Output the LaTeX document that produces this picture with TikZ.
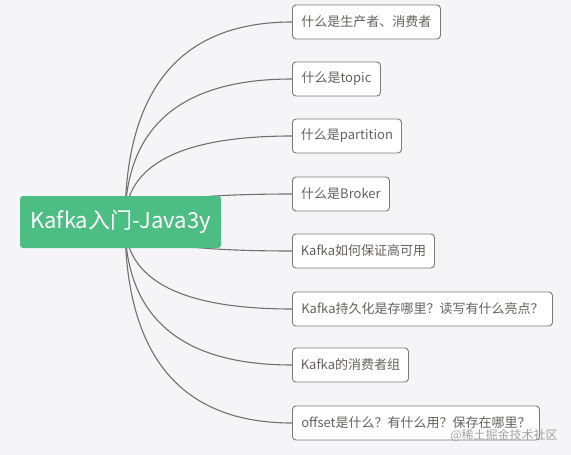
\documentclass[tikz,border=0pt]{standalone}
\usepackage{fontspec}
\setmainfont{Noto Sans CJK SC}
\usetikzlibrary{backgrounds,calc}
\definecolor{bgc}{HTML}{F5F5F7}
\definecolor{rootgreen}{HTML}{4CBD83}
\definecolor{linec}{HTML}{707070}
\definecolor{boxline}{HTML}{7A7A7A}
\definecolor{txtc}{HTML}{66615D}
\definecolor{wmark}{HTML}{A3A3A3}
\tikzset{
  rootbox/.style={fill=rootgreen, rounded corners=3pt, minimum width=201pt, minimum height=52pt,
    inner sep=0pt, text=white, font=\fontsize{22}{24}\selectfont},
  topicbox/.style={draw=boxline, fill=white, line width=0.9pt, rounded corners=3.5pt,
    minimum height=34pt, inner sep=0pt, text=txtc, font=\fontsize{13}{15}\selectfont, anchor=west},
  branch/.style={draw=linec, line width=1.1pt},
  watermark/.style={text=wmark, font=\fontsize{12}{14}\selectfont, inner sep=0pt}
}
\begin{document}
\begin{tikzpicture}[x=1pt,y=-1pt]
\useasboundingbox (0,0) rectangle (571,455);
\node[rootbox] (root) at (120.5,222) {Kafka入门-Java3y};
\coordinate (hub) at (125,222);
\node[topicbox, minimum width=148pt] (c1) at (292,22) {什么是生产者、消费者};
\node[topicbox, minimum width=88pt] (c2) at (292,79) {什么是topic};
\node[topicbox, minimum width=109pt] (c3) at (292,136) {什么是partition};
\node[topicbox, minimum width=97pt] (c4) at (292,194) {什么是Broker};
\node[topicbox, minimum width=142pt] (c5) at (292,251) {Kafka如何保证高可用};
\node[topicbox, minimum width=260pt] (c6) at (292,309) {Kafka持久化是存哪里？读写有什么亮点？};
\node[topicbox, minimum width=116pt] (c7) at (292,365) {Kafka的消费者组};
\node[topicbox, minimum width=247pt] (c8) at (292,423) {offset是什么？有什么用？保存在哪里？};
\node[watermark] (wm) at (504,435) {@稀土掘金技术社区};
\begin{pgfonlayer}{background}
\fill[bgc] (0,0) rectangle (571,455);
\foreach \c in {c1,c2,c3,c4,c5,c6,c7,c8}{
  \draw[branch] (hub) .. controls ($(hub)!0.6667!(hub |- \c.west)$) and ($(\c.west)!0.6667!(hub |- \c.west)$) .. (\c.west);
}
\end{pgfonlayer}
\end{tikzpicture}
\end{document}
